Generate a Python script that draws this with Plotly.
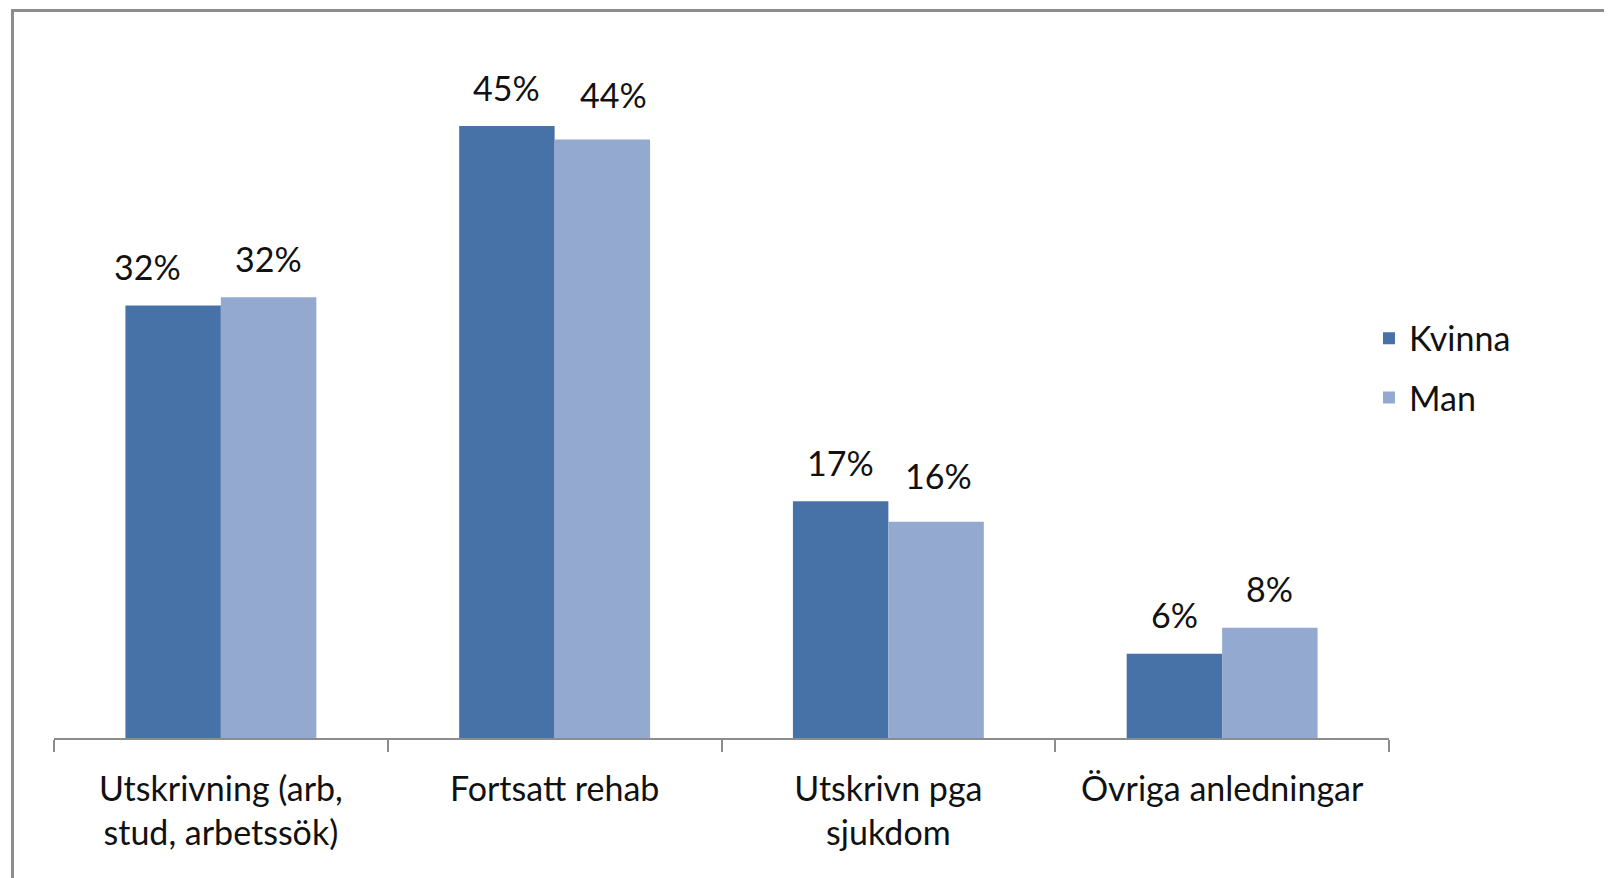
import plotly.graph_objects as go

# categories and series (fractions)
categories = ["Utskrivning (arb,<br>stud, arbetssök)", "Fortsatt rehab",
              "Utskrivn pga<br>sjukdom", "Övriga anledningar"]
kvinna = [0.318, 0.450, 0.174, 0.062]
man = [0.324, 0.440, 0.159, 0.081]

font_name = "Lato"
fsize = 34
c_kvinna = "#4672A7"
c_man = "#94A9CF"

fig = go.Figure()
fig.add_trace(go.Bar(x=categories, y=kvinna, name="Kvinna", marker_color=c_kvinna,
                     marker_line_width=0, legendgroup="k"))
fig.add_trace(go.Bar(x=categories, y=man, name="Man", marker_color=c_man,
                     marker_line_width=0, legendgroup="m"))

# data labels above each bar; a few were nudged by hand in the original
nudge = {(0, "k"): (-26, 0), (1, "m"): (11, 6), (2, "m"): (2, 7)}
half = 47.8
for i, cat in enumerate(categories):
    for vals, key, shift in ((kvinna, "k", -half), (man, "m", half)):
        dx, dy = nudge.get((i, key), (0, 0))
        fig.add_annotation(x=cat, y=vals[i], text=f"{vals[i]:.0%}", showarrow=False,
                           xshift=shift + dx, yshift=39 + dy, yanchor="middle",
                           font=dict(family=font_name, size=fsize, color="#111111"))

# outer chart frame
fig.add_shape(type="rect", xref="paper", yref="paper",
              x0=-0.0311, x1=1.2, y0=-0.25, y1=1.0698,
              line=dict(color="#8c8c8c", width=3), layer="below")

fig.update_layout(
    width=1612, height=878,
    margin=dict(l=45.5, r=231, t=49.5, b=148),
    barmode="group", bargap=0.428, bargroupgap=0,
    plot_bgcolor="white", paper_bgcolor="white",
    font=dict(family=font_name, size=fsize, color="#111111"),
    legend=dict(x=0.985, xanchor="left", y=0.63, yanchor="top",
                tracegroupgap=12, font=dict(size=fsize), itemwidth=30),
    showlegend=True,
)
fig.update_xaxes(showline=True, linecolor="#8c8c8c", linewidth=1.5,
                 ticks="outside", tickson="boundaries", ticklen=12,
                 tickcolor="#8c8c8c", tickwidth=1.5, ticklabelstandoff=20)
fig.update_yaxes(range=[0, 0.5], visible=False, showgrid=False)

fig.write_html("out.html")
